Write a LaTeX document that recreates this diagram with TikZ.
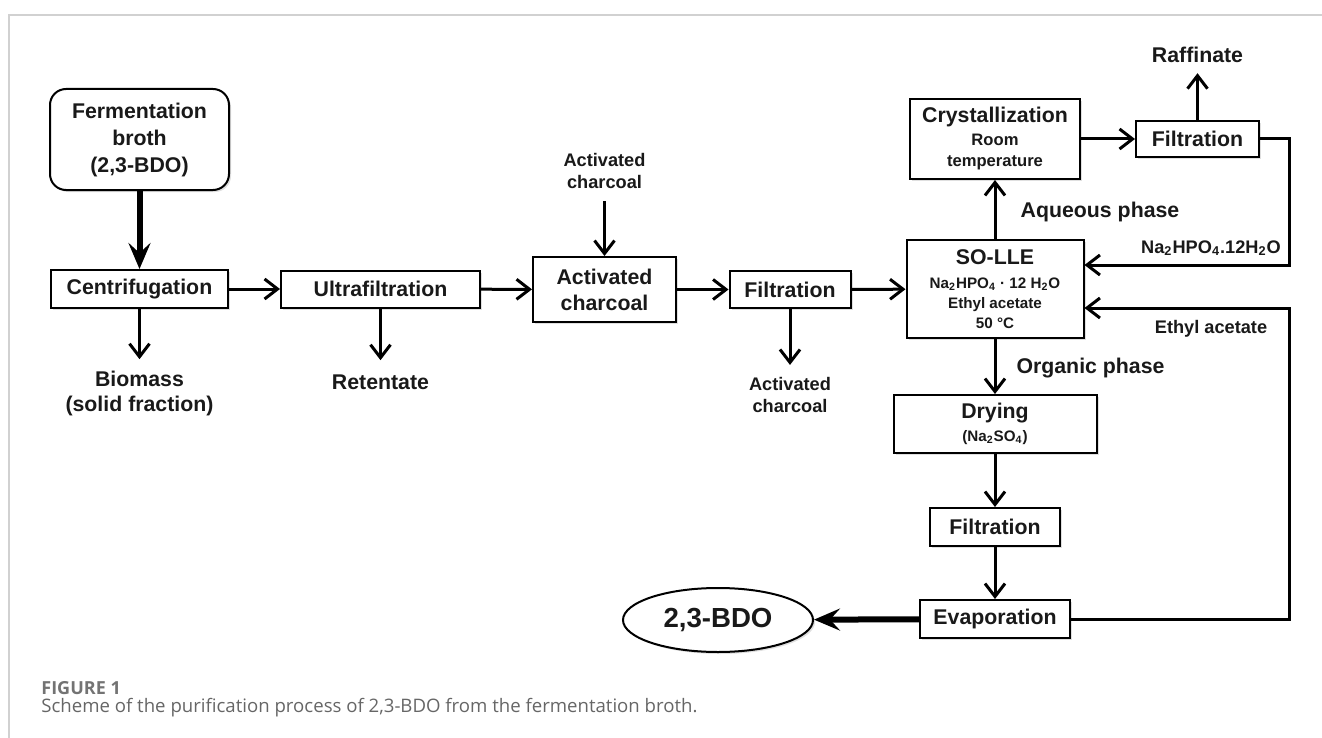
\documentclass[tikz,border=0pt]{standalone}
\usepackage{fontspec}
\setmainfont{Liberation Sans}
\newfontfamily\captionfont{Open Sans}
\usetikzlibrary{arrows.meta,shapes.geometric,shadows}
\newcommand\smallfs{\fontsize{7.6}{9}\selectfont}
\newcommand\roomfs{\fontsize{8.3}{10}\selectfont}

\begin{document}
\begin{tikzpicture}[x=0.5pt, y=-0.5pt,
  every node/.style={inner sep=0pt, align=center, text=black!90, font=\bfseries\fontsize{10.65}{13}\selectfont},
  box/.style={draw, line width=1pt, fill=white, drop shadow={shadow xshift=1pt, shadow yshift=-1pt, opacity=0.25}},
  smalltxt/.style={font=\bfseries\fontsize{9.1}{11}\selectfont},
  flow/.style={line width=1.5pt, -{Straight Barb[length=6.5pt, width=10pt]}},
  bigflow/.style={line width=3pt, -{Stealth[length=13pt, width=11pt, inset=5pt]}},
  recycle/.style={line width=1.5pt}]
  \useasboundingbox (0,0) rectangle (1322,738);
  \draw[black!18, line width=0.8pt] (9,738) -- (9,15) -- (1322,15);
  % process boxes
  \node (broth) [box, rounded corners=8pt, minimum width=89.5pt, minimum height=50.5pt] at (139.5,139.5) {Fermentation\\[0.5pt]broth\\[0.5pt](2,3-BDO)};
  \node (centr) [box, minimum width=88.5pt, minimum height=19pt] at (139.5,289) {Centrifugation};
  \node (ultra) [box, minimum width=99.5pt, minimum height=18.5pt] at (380.5,289) {Ultrafiltration};
  \node (acbox) [box, minimum width=71.5pt, minimum height=32.5pt] at (604.5,289.5) {Activated\\charcoal};
  \node (filt1) [box, minimum width=60.5pt, minimum height=18.5pt] at (790,289.5) {Filtration};
  \node (solle) [box, minimum width=88.5pt, minimum height=49pt] at (995,289) {SO-LLE\\[-1pt]{\smallfs Na\textsubscript{2}HPO\textsubscript{4} · 12 H\textsubscript{2}O}\\[-3pt]{\smallfs Ethyl acetate}\\[-3pt]{\smallfs 50 °C}};
  \node (cryst) [box, minimum width=85pt, minimum height=40pt] at (995,139) {Crystallization\\[-1.5pt]{\roomfs Room}\\[-2.5pt]{\roomfs temperature}};
  \node (filt2) [box, minimum width=61.5pt, minimum height=18pt] at (1197.5,139) {Filtration};
  \node (dry) [box, minimum width=101.5pt, minimum height=29pt] at (995,424) {Drying\\[-1.5pt]{\smallfs (Na\textsubscript{2}SO\textsubscript{4})}};
  \node (filt3) [box, minimum width=65pt, minimum height=19pt] at (995,527) {Filtration};
  \node (evap) [box, minimum width=75pt, minimum height=19pt] at (995,619) {Evaporation};
  \node (bdo) [box, ellipse, minimum width=95pt, minimum height=32pt, font=\bfseries\fontsize{13.8}{16}\selectfont] at (718,620) {2,3-BDO};
  % stream labels
  \node (acin) [smalltxt] at (604.5,171) {Activated\\charcoal};
  \node (acout) [smalltxt] at (790,395) {Activated\\charcoal};
  \node (biomass) at (139.5,393) {Biomass\\[-0.5pt](solid fraction)};
  \node (ret) at (380.5,382) {Retentate};
  \node (raff) at (1197.5,55) {Raffinate};
  \node (aq) at (1100,212) {Aqueous phase};
  \node (org) at (1090.5,368) {Organic phase};
  \node (naL) [smalltxt] at (1211,248) {Na\textsubscript{2}HPO\textsubscript{4}.12H\textsubscript{2}O};
  \node (eaL) [smalltxt] at (1211,329) {Ethyl acetate};
  \coordinate (r1) at (1289,265);
  \coordinate (r2) at (1289,308);
  % connectors
  \draw[bigflow] (broth) -- (centr);
  \draw[flow] (centr) -- (ultra);
  \draw[flow] (ultra) -- (acbox);
  \draw[flow] (acbox) -- (filt1);
  \draw[flow] (filt1) -- (solle);
  \draw[flow, shorten >=5.5pt] (centr) -- (biomass);
  \draw[flow, shorten >=7pt] (ultra) -- (ret);
  \draw[flow, shorten <=6pt] (acin) -- (acbox);
  \draw[flow, shorten >=6pt] (filt1) -- (acout);
  \draw[flow] (solle) -- (cryst);
  \draw[flow] (cryst) -- (filt2);
  \draw[flow, shorten >=5pt] (filt2) -- (raff);
  \draw[flow] (solle) -- (dry);
  \draw[flow] (dry) -- (filt3);
  \draw[flow] (filt3) -- (evap);
  \draw[bigflow] (evap) -- (bdo);
  \draw[flow] (filt2.east) -| (r1) -- (r1 -| solle.east);
  \draw[flow] (evap.east) -| (r2) -- (r2 -| solle.east);
  % caption
  \node (fig) [anchor=west, font=\captionfont\bfseries\fontsize{9}{11}\selectfont, text=black!55] at (41,688) {FIGURE 1};
  \node (cap) [anchor=west, font=\captionfont\fontsize{9.3}{11}\selectfont, text=black!60] at (41,708) {Scheme of the purification process of 2,3-BDO from the fermentation broth.};
\end{tikzpicture}
\end{document}
